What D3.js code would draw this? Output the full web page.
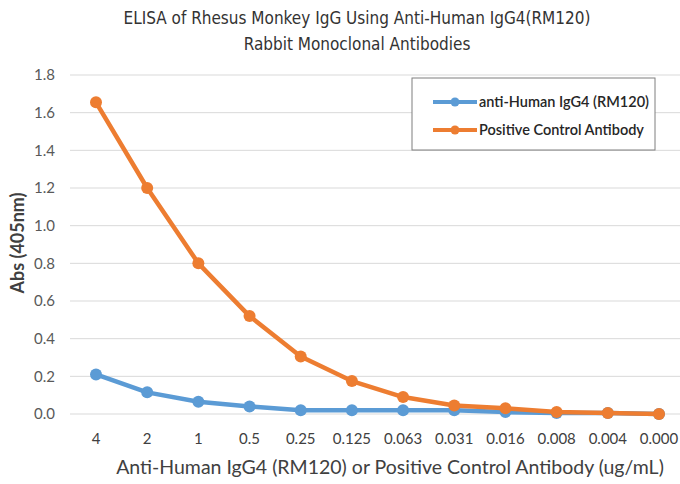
<!DOCTYPE html>
<html>
<head>
<meta charset="utf-8">
<script src="https://cdn.jsdelivr.net/npm/d3@7"></script>
<style>
body { margin: 0; background: #fff; }
svg { display: block; }
</style>
</head>
<body>
<svg id="chart"></svg>
<script>
// dilution series (ug/mL)
var concentrations = ["4", "2", "1", "0.5", "0.25", "0.125", "0.063", "0.031", "0.016", "0.008", "0.004", "0.000"];
var rm120 = [0.21, 0.115, 0.065, 0.04, 0.02, 0.02, 0.02, 0.02, 0.01, 0.005, 0.005, 0.0];
var positiveCtrl = [1.655, 1.2, 0.8, 0.52, 0.305, 0.175, 0.09, 0.045, 0.03, 0.01, 0.005, 0.0];
var yTicks = [0, 0.2, 0.4, 0.6, 0.8, 1.0, 1.2, 1.4, 1.6, 1.8];
var seriesNames = ["anti-Human IgG4 (RM120)", "Positive Control Antibody"];
var seriesColors = ["#5b9bd5", "#ed7d31"];

var W = 680, H = 484;
var svg = d3.select("#chart").attr("width", W).attr("height", H);

var x = d3.scalePoint().domain(concentrations).range([96, 659]);
var y = d3.scaleLinear().domain([0, 1.8]).range([414, 75]);

// grid
svg.append("g")
	.selectAll("line")
	.data(yTicks)
	.join("line")
	.attr("x1", 70).attr("x2", 680)
	.attr("y1", function(d) { return y(d); })
	.attr("y2", function(d) { return y(d); })
	.attr("stroke", "#d9d9d9")
	.attr("stroke-width", 1);

// y tick labels
svg.append("g")
	.selectAll("text")
	.data(yTicks)
	.join("text")
	.attr("x", 55)
	.attr("y", function(d) { return y(d); })
	.attr("dy", "0.35em")
	.attr("text-anchor", "end")
	.attr("font-family", "Lato, sans-serif")
	.attr("font-size", 15)
	.attr("fill", "#595959")
	.text(function(d) { return d.toFixed(1); });

// x tick labels
svg.append("g")
	.selectAll("text")
	.data(concentrations)
	.join("text")
	.attr("x", function(d) { return x(d); })
	.attr("y", 439)
	.attr("dy", "0.35em")
	.attr("text-anchor", "middle")
	.attr("font-family", "Lato, sans-serif")
	.attr("font-size", 15)
	.attr("fill", "#404040")
	.text(function(d) { return d; });

// lines + markers
var line = d3.line()
	.x(function(d, i) { return x(concentrations[i]); })
	.y(function(d) { return y(d); });

[rm120, positiveCtrl].forEach(function(vals, k) {
	svg.append("path")
		.datum(vals)
		.attr("d", line)
		.attr("fill", "none")
		.attr("stroke", seriesColors[k])
		.attr("stroke-width", 4.5)
		.attr("stroke-linejoin", "round");
	svg.append("g")
		.selectAll("circle")
		.data(vals)
		.join("circle")
		.attr("cx", function(d, i) { return x(concentrations[i]); })
		.attr("cy", function(d) { return y(d); })
		.attr("r", 6)
		.attr("fill", seriesColors[k]);
});

// title
var title = svg.append("text")
	.attr("text-anchor", "middle")
	.attr("font-family", "'Liberation Sans Narrow', 'DejaVu Sans Condensed', sans-serif")
	.attr("font-size", 17)
	.attr("fill", "#333");
title.append("tspan").attr("x", 357).attr("y", 24).text("ELISA of Rhesus Monkey IgG Using Anti-Human IgG4(RM120)");
title.append("tspan").attr("x", 357).attr("y", 50).text("Rabbit Monoclonal Antibodies");

// axis titles
svg.append("text")
	.attr("transform", "translate(18,243) rotate(-90)")
	.attr("dy", "0.35em")
	.attr("text-anchor", "middle")
	.attr("font-family", "Lato, sans-serif")
	.attr("font-weight", "bold")
	.attr("font-size", 18)
	.attr("fill", "#404040")
	.text("Abs (405nm)");

svg.append("text")
	.attr("x", 390)
	.attr("y", 467)
	.attr("dy", "0.35em")
	.attr("text-anchor", "middle")
	.attr("font-family", "Lato, sans-serif")
	.attr("font-size", 19.5)
	.attr("fill", "#404040")
	.text("Anti-Human IgG4 (RM120) or Positive Control Antibody (ug/mL)");

// legend
var lg = svg.append("g");
lg.append("rect")
	.attr("x", 412).attr("y", 78)
	.attr("width", 243).attr("height", 72)
	.attr("fill", "#fff")
	.attr("stroke", "#7f7f7f")
	.attr("stroke-width", 1);
seriesNames.forEach(function(name, k) {
	var ly = 102 + k * 28;
	lg.append("line")
		.attr("x1", 433).attr("x2", 477)
		.attr("y1", ly).attr("y2", ly)
		.attr("stroke", seriesColors[k])
		.attr("stroke-width", 4);
	lg.append("circle")
		.attr("cx", 455).attr("cy", ly).attr("r", 4.5)
		.attr("fill", seriesColors[k]);
	lg.append("text")
		.attr("x", 479).attr("y", ly)
		.attr("dy", "0.35em")
		.attr("font-family", "Lato, sans-serif")
		.attr("font-weight", 600)
		.attr("font-size", 14.5)
		.attr("fill", "#262626")
		.text(name);
});
</script>
</body>
</html>
